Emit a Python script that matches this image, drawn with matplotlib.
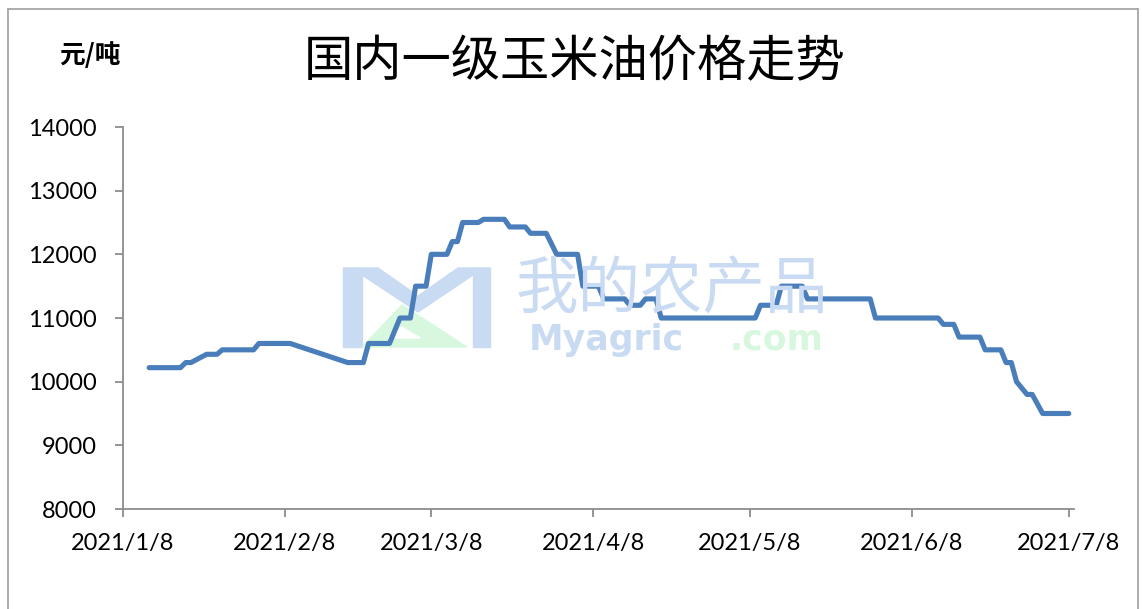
import matplotlib
matplotlib.use("Agg")
import matplotlib.pyplot as plt
from matplotlib.patches import Polygon, Rectangle
from matplotlib.lines import Line2D
import pandas as pd

# ============== Données (points de cassure de la courbe) ===================
dates = [
    "2021-01-13", "2021-01-19", "2021-01-20", "2021-01-21", "2021-01-24",
    "2021-01-26", "2021-01-27", "2021-02-02", "2021-02-03", "2021-02-09",
    "2021-02-20", "2021-02-23", "2021-02-24", "2021-02-28", "2021-03-02",
    "2021-03-04", "2021-03-05", "2021-03-07", "2021-03-08", "2021-03-11",
    "2021-03-12", "2021-03-13", "2021-03-14", "2021-03-17", "2021-03-18",
    "2021-03-22", "2021-03-23", "2021-03-26", "2021-03-27", "2021-03-30",
    "2021-04-01", "2021-04-05", "2021-04-06", "2021-04-09", "2021-04-10",
    "2021-04-14", "2021-04-15", "2021-04-17", "2021-04-18", "2021-04-20",
    "2021-04-21", "2021-05-09", "2021-05-10", "2021-05-13", "2021-05-14",
    "2021-05-18", "2021-05-19", "2021-05-31", "2021-06-01", "2021-06-13",
    "2021-06-14", "2021-06-16", "2021-06-17", "2021-06-21", "2021-06-22",
    "2021-06-25", "2021-06-26", "2021-06-27", "2021-06-28", "2021-06-30",
    "2021-07-01", "2021-07-03", "2021-07-08",
]
prices = [
    10220, 10220, 10300, 10300, 10430,
    10430, 10500, 10500, 10600, 10600,
    10300, 10300, 10600, 10600, 11000,
    11000, 11500, 11500, 12000, 12000,
    12200, 12200, 12500, 12500, 12550,
    12550, 12430, 12430, 12330, 12330,
    12000, 12000, 11500, 11500, 11300,
    11300, 11200, 11200, 11300, 11300,
    11000, 11000, 11200, 11200, 11500,
    11500, 11300, 11300, 11000, 11000,
    10900, 10900, 10700, 10700, 10500,
    10500, 10300, 10300, 10000, 9800,
    9800, 9500, 9500,
]
tick_dates = ["2021-01-08", "2021-02-08", "2021-03-08", "2021-04-08",
              "2021-05-08", "2021-06-08", "2021-07-08"]
tick_labels = ["2021/1/8", "2021/2/8", "2021/3/8", "2021/4/8",
               "2021/5/8", "2021/6/8", "2021/7/8"]
yticks = [8000, 9000, 10000, 11000, 12000, 13000, 14000]

title = "国内一级玉米油价格走势"
unit = "元/吨"

x = pd.to_datetime(dates)

# ============== Figure ===================
W, H = 1142, 609
fig = plt.figure(figsize=(W / 100, H / 100), dpi=100)
ax = fig.add_axes([123 / W, 1 - 509 / H, (1074 - 123) / W, (509 - 127) / H])


def px(xp, yp):
    # pixels image -> fraction figure
    return (xp / W, 1 - yp / H)


# cadre gris autour du graphique
fig.add_artist(Line2D([8 / W, 8 / W], [0, 1 - 9 / H], color="#a6a6a6", lw=1.3))
fig.add_artist(Line2D([8 / W, 1138 / W], [1 - 9 / H, 1 - 9 / H], color="#a6a6a6", lw=1.3))
fig.add_artist(Line2D([1138 / W, 1138 / W], [0, 1 - 9 / H], color="#a6a6a6", lw=1.3))

# ============== Filigrane ===================
wm_blue = "#c9dbf3"
wm_green = "#d7f8de"
fig.add_artist(Rectangle(px(343, 347), 19 / W, 79 / H, color=wm_blue, zorder=0))
fig.add_artist(Rectangle(px(473, 347), 17 / W, 79 / H, color=wm_blue, zorder=0))
fig.add_artist(Polygon([px(343, 268), px(378, 268), px(418, 296), px(418, 312), px(362, 275)],
                       closed=True, color=wm_blue, zorder=0))
fig.add_artist(Polygon([px(490, 268), px(458, 268), px(418, 296), px(418, 312), px(473, 275)],
                       closed=True, color=wm_blue, zorder=0))
fig.add_artist(Polygon([px(362, 347), px(402, 305), px(467, 347)],
                       closed=True, color=wm_green, zorder=0))
fig.add_artist(Polygon([px(388, 338), px(402, 327), px(420, 338)],
                       closed=True, color="white", zorder=0))
fig.text(672 / W, 1 - 291 / H, "我的农产品", fontsize=45, color=wm_blue,
         family=["Noto Sans CJK SC"], ha="center", va="center", zorder=0)
fig.text(606 / W, 1 - 350 / H, "Myagric", fontsize=25, fontweight="bold",
         color=wm_blue, family="DejaVu Sans", ha="center", va="baseline", zorder=0)
fig.text(776 / W, 1 - 350 / H, ".com", fontsize=25, fontweight="bold",
         color=wm_green, family="DejaVu Sans", ha="center", va="baseline", zorder=0)

# ============== Courbe ===================
ax.patch.set_alpha(0)
ax.plot(x, prices, color="#4a7ebb", lw=3.7, solid_capstyle="round",
        solid_joinstyle="round", zorder=3)

ax.set_xlim(pd.Timestamp("2021-01-08"), pd.Timestamp("2021-07-09"))
ax.set_ylim(8000, 14000)
ax.set_yticks(yticks)
ax.set_yticklabels([str(v) for v in yticks])
ax.set_xticks(pd.to_datetime(tick_dates))
ax.set_xticklabels(tick_labels)

for s in ["top", "right"]:
    ax.spines[s].set_visible(False)
for s in ["left", "bottom"]:
    ax.spines[s].set_color("#8c8c8c")
    ax.spines[s].set_linewidth(1.3)
ax.tick_params(axis="both", colors="#8c8c8c", length=6, width=1.3, direction="out")
ax.tick_params(axis="y", pad=13, labelcolor="black", labelsize=17)
ax.tick_params(axis="x", pad=11, labelcolor="black", labelsize=17)
for lab in ax.get_xticklabels() + ax.get_yticklabels():
    lab.set_family("Lato")

# ============== Titres ===================
fig.text(575 / W, 1 - 62 / H, title, fontsize=35.5, family=["Noto Sans CJK SC"],
         ha="center", va="center")
fig.text(90 / W, 1 - 55 / H, unit, fontsize=18.5, fontweight="bold",
         family=["Noto Sans CJK SC", "DejaVu Sans"], ha="center", va="center")

fig.savefig("out.png", dpi=100)
